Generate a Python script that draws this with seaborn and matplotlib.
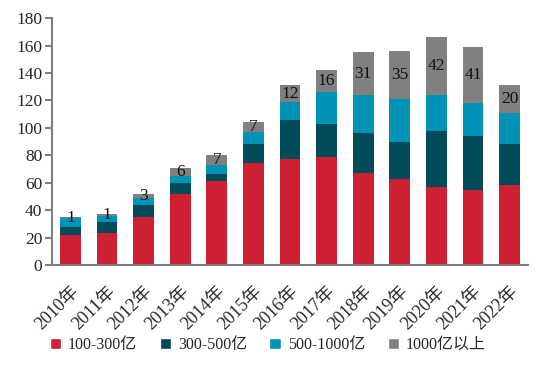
import numpy as np
import pandas as pd
import seaborn as sns
import matplotlib.pyplot as plt
from matplotlib.patches import Patch

years = ['2010年', '2011年', '2012年', '2013年', '2014年', '2015年', '2016年',
         '2017年', '2018年', '2019年', '2020年', '2021年', '2022年']
v100_300 = [22, 23, 35, 52, 61, 74, 77, 79, 67, 63, 57, 55, 58]
v300_500 = [6, 8, 9, 8, 5, 14, 29, 24, 29, 27, 41, 39, 30]
v500_1000 = [6, 5, 5, 5, 7, 9, 13, 23, 28, 31, 26, 24, 23]
v1000_up = [1, 1, 3, 6, 7, 7, 12, 16, 31, 35, 42, 41, 20]

series = ['100-300亿', '300-500亿', '500-1000亿', '1000亿以上']
colors = ['#CD2032', '#004A5A', '#0093B5', '#808080']

sns.set_style('white')
plt.rcParams['font.family'] = ['Liberation Serif', 'Noto Sans CJK SC']

df = pd.DataFrame({'year': years, 'a': v100_300, 'b': v300_500,
                   'c': v500_1000, 'd': v1000_up})
cum = df[['a', 'b', 'c', 'd']].cumsum(axis=1)

fig = plt.figure(figsize=(5.42, 3.69), dpi=100)
ax = fig.add_axes([0.096, 0.282, 0.878, 0.669])

# draw from the tallest (cumulative) down so segments stack
for col, c in zip(['d', 'c', 'b', 'a'], colors[::-1]):
    sns.barplot(x=df['year'], y=cum[col], color=c, width=0.57,
                saturation=1, ax=ax, linewidth=0)

for i in range(len(years)):
    bottom = cum['c'][i]
    ax.text(i, bottom + v1000_up[i] / 2, str(v1000_up[i]), ha='center',
            va='center', fontsize=12.5, color='#111111')

ax.set_ylim(0, 180)
ax.set_yticks(range(0, 181, 20))
ax.set_xlim(-0.5, len(years) - 0.5)
ax.set_xlabel('')
ax.set_ylabel('')

ax.set_xticks(np.arange(len(years)))
ax.set_xticklabels(years, rotation=45, ha='right', rotation_mode='anchor',
                   fontsize=13)
ax.tick_params(axis='x', length=0, pad=13)
ax.set_xticks(np.arange(-0.5, len(years), 1), minor=True)
ax.tick_params(axis='x', which='minor', length=5, width=1.5, color='#808080',
               direction='out')
ax.tick_params(axis='y', length=5, width=1.5, color='#808080', labelsize=12.5,
               direction='out', left=True, pad=2)

for s in ['top', 'right']:
    ax.spines[s].set_visible(False)
for s in ['left', 'bottom']:
    ax.spines[s].set_color('#808080')
    ax.spines[s].set_linewidth(1.5)

handles = [Patch(facecolor=c, label=l) for c, l in zip(colors, series)]
fig.legend(handles=handles, loc='center', bbox_to_anchor=(0.494, 0.065),
           ncol=4, frameon=False, handlelength=0.7, handleheight=0.7,
           handletextpad=0.45, columnspacing=1.4, fontsize=11.5)

fig.savefig('out.png', dpi=100)
